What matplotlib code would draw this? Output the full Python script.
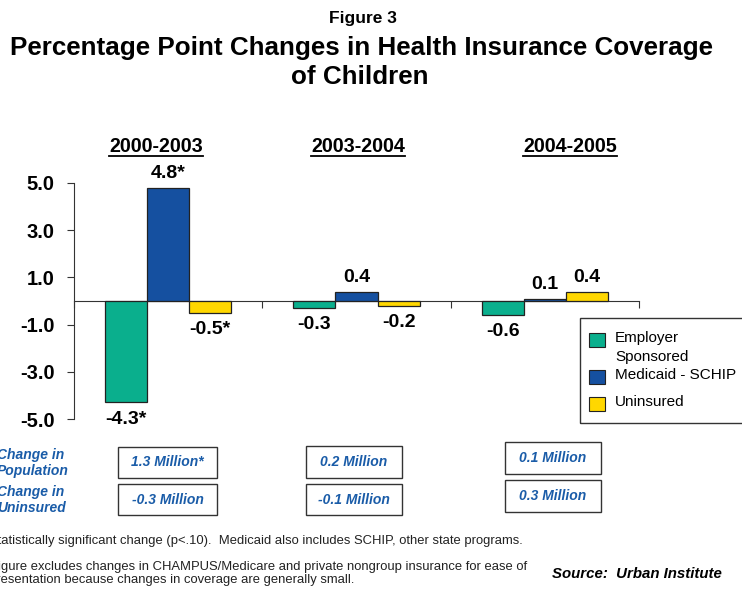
import matplotlib
matplotlib.use("Agg")
import matplotlib.pyplot as plt
from matplotlib.patches import Rectangle
from matplotlib.lines import Line2D
import numpy as np

plt.rcParams['font.family'] = ['Liberation Sans', 'DejaVu Sans']

periods = ["2000-2003", "2003-2004", "2004-2005"]
series_names = ["Employer\nSponsored", "Medicaid - SCHIP", "Uninsured"]
employer = [-4.3, -0.3, -0.6]
medicaid = [4.8, 0.4, 0.1]
uninsured = [-0.5, -0.2, 0.4]
employer_lbl = ["-4.3*", "-0.3", "-0.6"]
medicaid_lbl = ["4.8*", "0.4", "0.1"]
uninsured_lbl = ["-0.5*", "-0.2", "0.4"]
pop_change = ["1.3 Million*", "0.2 Million", "0.1 Million"]
unins_change = ["-0.3 Million", "-0.1 Million", "0.3 Million"]
yticks = [5.0, 3.0, 1.0, -1.0, -3.0, -5.0]

colors = ["#0AAF8D", "#1550A0", "#FFD700"]
txtblue = "#1A5CA8"

W, H = 742, 589
fig = plt.figure(figsize=(W / 100, H / 100), dpi=100)

def fx(px):
    return px / W

def fy(py):
    return 1 - py / H

ax = fig.add_axes([fx(74), fy(419), fx(639) - fx(74), fy(183) - fy(419)])
bw = 42 / 188
x = np.arange(len(periods))
series = [employer, medicaid, uninsured]
labels = [employer_lbl, medicaid_lbl, uninsured_lbl]
for i, (vals, lbls) in enumerate(zip(series, labels)):
    xs = x + (i - 1) * bw
    ax.bar(xs, vals, width=bw, color=colors[i], edgecolor="#222222", linewidth=0.9, zorder=3)
    for xx, v, l in zip(xs, vals, lbls):
        if v >= 0:
            ax.annotate(l, (xx, v), xytext=(0, 4), textcoords="offset points",
                        ha="center", va="bottom", fontsize=14, fontweight="bold")
        else:
            ax.annotate(l, (xx, v), xytext=(0, -6), textcoords="offset points",
                        ha="center", va="top", fontsize=14, fontweight="bold")

ax.set_xlim(-0.5, len(periods) - 0.5)
ax.set_ylim(-5, 5)
ax.set_yticks(yticks)
ax.set_yticklabels([f"{t:.1f}" for t in yticks], fontsize=14.5, fontweight="bold")
ax.spines["top"].set_visible(False)
ax.spines["right"].set_visible(False)
ax.spines["bottom"].set_position(("data", 0))
ax.spines["left"].set_color("#333333")
ax.spines["bottom"].set_color("#333333")
ax.set_xticks(np.arange(len(periods) + 1) - 0.5)
ax.set_xticklabels([])
ax.tick_params(axis="x", direction="out", length=5, color="#333333")
ax.tick_params(axis="y", direction="out", length=5, color="#333333", pad=9)

renderer = fig.canvas.get_renderer()

# period headers (underlined)
header_x = [156, 358, 570]
for hx, p in zip(header_x, periods):
    t = fig.text(fx(hx), fy(146), p, ha="center", va="center", fontsize=14.2, fontweight="bold")
    bb = t.get_window_extent(renderer)
    uy = fy(156)
    fig.add_artist(Line2D([bb.x0 / W, bb.x1 / W], [uy, uy], transform=fig.transFigure,
                          color="black", linewidth=1.3))

# titles
fig.text(fx(363), fy(18), "Figure 3", ha="center", va="center", fontsize=12.5, fontweight="bold")
fig.text(fx(362), fy(48), "Percentage Point Changes in Health Insurance Coverage", ha="center",
         va="center", fontsize=18.7, fontweight="bold")
fig.text(fx(360), fy(77), "of Children", ha="center", va="center", fontsize=18.7, fontweight="bold")

# legend (manual frame, clipped at right edge as in the reference)
fig.patches.append(Rectangle((fx(580), fy(423)), fx(780) - fx(580), fy(318) - fy(423),
                             transform=fig.transFigure, fill=False, edgecolor="#333333",
                             linewidth=1.0))
leg_y = [340, 377, 404]
for i, (nm, yy) in enumerate(zip(series_names, leg_y)):
    fig.patches.append(Rectangle((fx(589), fy(yy + 7)), fx(605) - fx(589), fy(yy - 7) - fy(yy + 7),
                                 transform=fig.transFigure, facecolor=colors[i],
                                 edgecolor="#222222", linewidth=0.8))
    fig.text(fx(615), fy(yy - 9), nm, ha="left", va="top", fontsize=11, linespacing=1.45)

# boxes
box_x = [(118, 217), (306, 402), (505, 601)]
box_y1 = [(447, 478), (446, 478), (442, 474)]
box_y2 = [(484, 515), (484, 515), (480, 512)]
for (x0, x1), (a0, a1), (b0, b1), s1, s2 in zip(box_x, box_y1, box_y2, pop_change, unins_change):
    for (y0, y1), s in (((a0, a1), s1), ((b0, b1), s2)):
        fig.patches.append(Rectangle((fx(x0), fy(y1)), fx(x1) - fx(x0), fy(y0) - fy(y1),
                                     transform=fig.transFigure, fill=False,
                                     edgecolor="#333333", linewidth=1.0))
        fig.text(fx((x0 + x1) / 2), fy((y0 + y1) / 2), s, ha="center", va="center",
                 fontsize=10, fontweight="bold", style="italic", color=txtblue)

fig.text(fx(-3), fy(463), "Change in\nPopulation", ha="left", va="center", fontsize=10,
         fontweight="bold", style="italic", color=txtblue, linespacing=1.1)
fig.text(fx(-3), fy(500), "Change in\nUninsured", ha="left", va="center", fontsize=10,
         fontweight="bold", style="italic", color=txtblue, linespacing=1.1)

# footnotes (left part clipped by figure edge, as in the reference)
def clipped_text(full, prefix, ypx, **kw):
    tmp = fig.text(0, 0, prefix, **kw)
    w = tmp.get_window_extent(renderer).width
    tmp.remove()
    fig.text(fx(-w + 1), fy(ypx), full, ha="left", va="center", **kw)

fkw = dict(fontsize=9.4, color="#222222")
clipped_text("*Statistically significant change (p<.10).  Medicaid also includes SCHIP, other state programs.",
             "*St", 541, **fkw)
clipped_text("Figure excludes changes in CHAMPUS/Medicare and private nongroup insurance for ease of",
             "Fi", 567, **fkw)
clipped_text("presentation because changes in coverage are generally small.", "pr", 580, **fkw)
fig.text(fx(722), fy(574), "Source:  Urban Institute", ha="right", va="center", fontsize=10.8,
         fontweight="bold", style="italic")

fig.savefig("out.png", dpi=100)
